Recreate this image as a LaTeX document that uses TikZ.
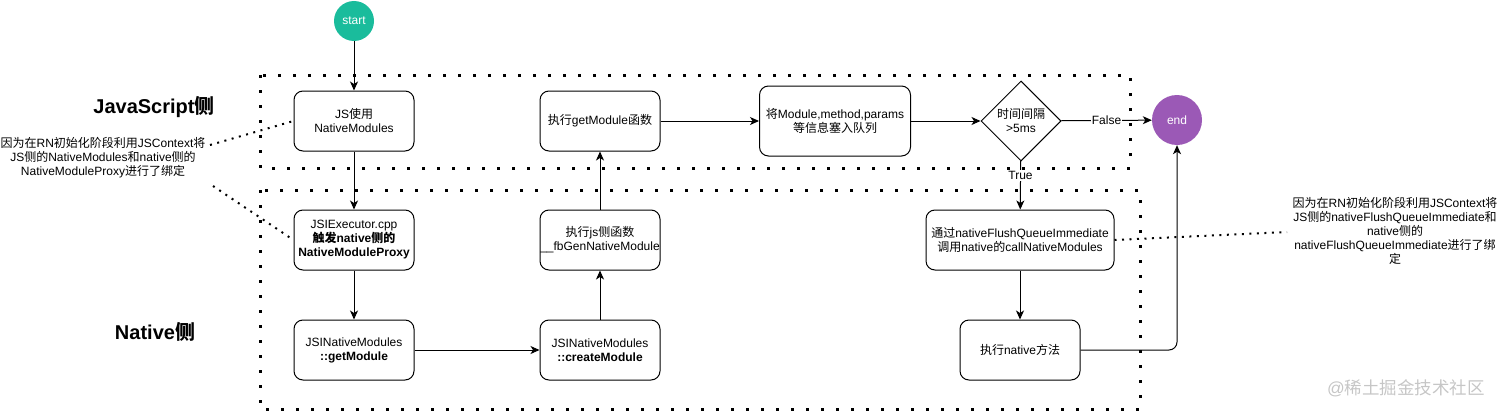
\documentclass[tikz,border=0pt]{standalone}
\usepackage{fontspec}
\setmainfont{Liberation Sans}
\newfontfamily\cjk{Noto Sans CJK SC}
\newcommand{\zh}[1]{{\cjk #1}}
\usetikzlibrary{shapes.geometric,arrows.meta}
\definecolor{startgreen}{HTML}{1ABC9C}
\definecolor{endpurple}{HTML}{9B59B6}
\tikzset{
	stepbox/.style = {draw, line width=1pt, rounded corners=9pt, minimum width=120pt, minimum height=60pt,
		align=center, inner sep=0pt, font=\fontsize{12}{14}\selectfont},
	terminal/.style = {circle, inner sep=0pt, text=white, font=\fontsize{12}{14}\selectfont},
	flow/.style = {line width=1pt, -{Stealth[length=9pt,width=8pt,inset=2.5pt]}},
	frame/.style = {line width=3pt, dash pattern=on 3pt off 12pt},
	noteline/.style = {line width=2pt, dash pattern=on 2pt off 5.5pt},
	note/.style = {align=center, font=\fontsize{12}{14}\selectfont},
	side/.style = {font=\bfseries\fontsize{20}{24}\selectfont}
}
\begin{document}
\begin{tikzpicture}[x=1pt, y=-1pt]
	\useasboundingbox (0,0) rectangle (1501,412);
	% the two sides
	\draw[frame] (260,75) rectangle (1130,168);
	\draw[frame] (260,190) rectangle (1140,409);
	\node[side] (jsside) at (154,107) {JavaScript\zh{侧}};
	\node[side] (nativeside) at (155,332) {Native\zh{侧}};

	\node[terminal, fill=startgreen, minimum size=40pt] (start) at (354,21) {start};
	\node[terminal, fill=endpurple, minimum size=50pt] (end) at (1177,120) {end};

	% JavaScript side
	\node[stepbox] (usenm) at (354,121) {JS\zh{使用}\\NativeModules};
	\node[stepbox] (getmod) at (600,121) {\zh{执行}getModule\zh{函数}};
	\node[stepbox, minimum width=151pt, minimum height=70pt] (queue) at (835,121) {\zh{将}Module,method,params\\\zh{等信息塞入队列}};
	\node[diamond, draw, line width=1pt, minimum width=80pt, minimum height=80pt, inner sep=0pt, align=center,
		font=\fontsize{12}{14}\selectfont] (gap) at (1021,121) {\zh{时间间隔}\\>5ms};

	% Native side
	\node[stepbox] (jsiexec) at (354,240) {JSIExecutor.cpp\\\textbf{\zh{触发}native\zh{侧的}}\\\textbf{NativeModuleProxy}};
	\node[stepbox] (fbgen) at (600,240) {\zh{执行}js\zh{侧函数}\\\_\_fbGenNativeModule};
	\node[stepbox] (nmget) at (354,350) {JSINativeModules\\\textbf{::getModule}};
	\node[stepbox] (nmcreate) at (600,350) {JSINativeModules\\\textbf{::createModule}};
	\node[stepbox, minimum width=188pt] (flush) at (1020,240) {\zh{通过}nativeFlushQueueImmediate\\\zh{调用}native\zh{的}callNativeModules};
	\node[stepbox] (callnative) at (1020,350) {\zh{执行}native\zh{方法}};

	% notes
	\node[note] (jsnote) at (103,158) {\zh{因为在}RN\zh{初始化阶段利用}JSContext\zh{将}\\JS\zh{侧的}NativeModules\zh{和}native\zh{侧的}\\NativeModuleProxy\zh{进行了绑定}};
	\node[note] (fqnote) at (1395,231) {\zh{因为在}RN\zh{初始化阶段利用}JSContext\zh{将}\\JS\zh{侧的}nativeFlushQueueImmediate\zh{和}\\native\zh{侧的}\\nativeFlushQueueImmediate\zh{进行了绑}\\\zh{定}};
	\coordinate (jsnoteA) at (210,145);
	\coordinate (jsnoteB) at (213,186);
	\coordinate (fqnoteA) at (1287,232);
	\draw[noteline] (jsnoteA) -- (usenm.west);
	\draw[noteline] (jsnoteB) -- (jsiexec.west);
	\draw[noteline] (flush.east) -- (fqnoteA);

	% flow
	\draw[flow] (start) -- (usenm);
	\draw[flow] (usenm) -- (jsiexec);
	\draw[flow] (jsiexec) -- (nmget);
	\draw[flow] (nmget) -- (nmcreate);
	\draw[flow] (nmcreate) -- (fbgen);
	\draw[flow] (fbgen) -- (getmod);
	\draw[flow] (getmod) -- (queue);
	\draw[flow] (queue) -- (gap);
	\draw[flow] (gap) -- node[fill=white, inner sep=1pt, font=\fontsize{12}{14}\selectfont] (falselbl) {False} (end);
	\draw[flow] (gap) -- node[pos=0.3, fill=white, inner sep=1pt, font=\fontsize{12}{14}\selectfont] (truelbl) {True} (flush);
	\draw[flow] (flush) -- (callnative);
	\draw[flow, rounded corners=8pt] (callnative.east) -| (end.south);

	\node[text=gray!45, font=\fontsize{17.5}{20}\selectfont] (mark) at (1406,388) {@\zh{稀土掘金技术社区}};
\end{tikzpicture}
\end{document}
